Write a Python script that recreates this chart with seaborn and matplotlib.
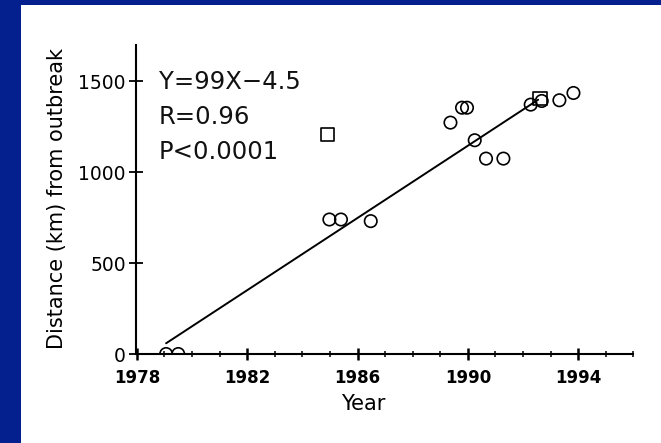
import numpy as np
import pandas as pd
import matplotlib
matplotlib.use("Agg")
import matplotlib.pyplot as plt
from matplotlib.patches import Rectangle
from matplotlib.ticker import MultipleLocator
import seaborn as sns

# data
circle_years = [1979.06, 1979.5, 1984.98, 1985.4, 1986.48, 1989.37, 1989.79, 1989.97,
                1990.25, 1990.66, 1991.29, 1992.28, 1992.68, 1993.32, 1993.83]
circle_dist = [0, 0, 740, 740, 731, 1273, 1355, 1355,
               1176, 1075, 1075, 1372, 1392, 1396, 1436]
square_years = [1984.92, 1992.62]
square_dist = [1207, 1405]
fit_years = [1979.06, 1992.55]
fit_dist = [59, 1399]
stats_lines = ["Y=99X\u22124.5", "R=0.96", "P<0.0001"]
year_ticks = [1978, 1982, 1986, 1990, 1994]
dist_ticks = [0, 500, 1000, 1500]

circles = pd.DataFrame({"year": circle_years, "dist": circle_dist})
squares = pd.DataFrame({"year": square_years, "dist": square_dist})
fit = pd.DataFrame({"year": fit_years, "dist": fit_dist})

sns.set_style("white")
plt.rcParams["font.family"] = ["DejaVu Sans"]

fig = plt.figure(figsize=(6.61, 4.43), dpi=100, facecolor="#04208e")
fig.patches.append(Rectangle((21 / 661, 0), 1, 1 - 5 / 443, transform=fig.transFigure,
                             facecolor="white", edgecolor="none", zorder=-5))
ax = fig.add_axes([135.5 / 661, 1 - 354 / 443, 497.8 / 661, 309 / 443])
ax.set_facecolor("none")

sns.lineplot(data=fit, x="year", y="dist", color="black", linewidth=1.4, ax=ax)
sns.scatterplot(data=circles, x="year", y="dist", marker="o", s=80,
                facecolor="none", edgecolor="black", linewidth=1.2, ax=ax, zorder=3)
sns.scatterplot(data=squares, x="year", y="dist", marker="s", s=90,
                facecolor="none", edgecolor="black", linewidth=1.2, ax=ax, zorder=3)

ax.set_xlim(1977.95, 1996)
ax.set_ylim(0, 1700)
ax.set_xticks(year_ticks)
ax.xaxis.set_minor_locator(MultipleLocator(1))
ax.set_yticks(dist_ticks)

sns.despine(ax=ax)
for side in ["left", "bottom"]:
    ax.spines[side].set_linewidth(1.5)
    ax.spines[side].set_color("black")

ax.tick_params(axis="x", which="major", bottom=True, direction="inout", length=8,
               width=1.8, pad=7, labelsize=12, colors="black")
ax.tick_params(axis="x", which="minor", bottom=True, direction="inout", length=5,
               width=1.1, colors="black")
ax.tick_params(axis="y", which="major", left=True, direction="inout", length=10,
               width=1.3, pad=2, labelsize=13.5, colors="black")
for lbl in ax.get_xticklabels():
    lbl.set_fontweight("bold")

ax.set_xlabel("Year", fontsize=15, color="black")
ax.set_ylabel("Distance (km) from outbreak", fontsize=15, color="black")
ax.xaxis.set_label_coords(0.457, -0.13)
ax.yaxis.set_label_coords(-0.1376, 0.503)

for i, line in enumerate(stats_lines):
    ax.text(0.047, 0.858 - i * 0.1135, line, transform=ax.transAxes,
            fontsize=17.5, va="baseline", ha="left", color="#111111")

fig.savefig("out.png", dpi=100, facecolor=fig.get_facecolor())
